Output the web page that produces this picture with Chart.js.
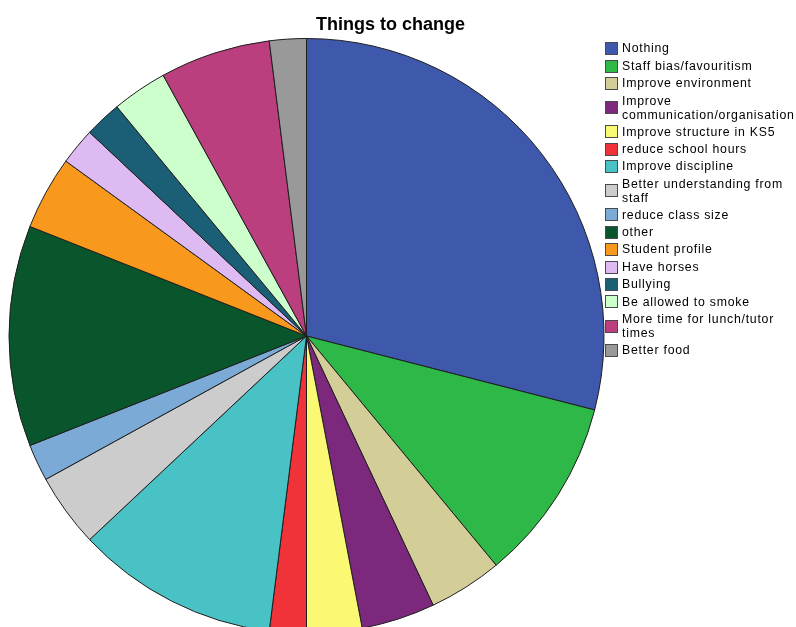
<!DOCTYPE html>
<html>
<head>
<meta charset="utf-8">
<script src="https://cdn.jsdelivr.net/npm/chart.js@4/dist/chart.umd.min.js"></script>
<style>
html,body{margin:0;padding:0;background:#fff;}
#wrap{width:796px;height:627px;position:relative;overflow:hidden;}
canvas{display:block;}
</style>
</head>
<body>
<div id="wrap"><canvas id="c" width="796" height="627"></canvas></div>
<script>
// ---- data ----
const titleText = 'Things to change';
const categories = [
  'Nothing',
  'Staff bias/favouritism',
  'Improve environment',
  'Improve communication/organisation',
  'Improve structure in KS5',
  'reduce school hours',
  'Improve discipline',
  'Better understanding from staff',
  'reduce class size',
  'other',
  'Student profile',
  'Have horses',
  'Bullying',
  'Be allowed to smoke',
  'More time for lunch/tutor times',
  'Better food'
];
const values = [29, 10, 4, 4, 3, 2, 11, 4, 2, 12, 4, 2, 2, 3, 6, 2];
const colors = [
  '#3E58AC', '#2EB848', '#D3CE97', '#7C287D', '#FBF873', '#EF3338',
  '#48C2C5', '#CCCCCC', '#7AAAD5', '#0A562C', '#F8981D', '#DDBAF1',
  '#1A5F76', '#CCFFCC', '#BB3F7F', '#999999'
];
const legendLabels = [
  ['Nothing'],
  ['Staff bias/favouritism'],
  ['Improve environment'],
  ['Improve', 'communication/organisation'],
  ['Improve structure in KS5'],
  ['reduce school hours'],
  ['Improve discipline'],
  ['Better understanding from', 'staff'],
  ['reduce class size'],
  ['other'],
  ['Student profile'],
  ['Have horses'],
  ['Bullying'],
  ['Be allowed to smoke'],
  ['More time for lunch/tutor', 'times'],
  ['Better food']
];

// ---- custom title + legend ----
const decor = {
  id: 'decor',
  afterDraw(chart) {
    const ctx = chart.ctx;
    const ds = chart.data.datasets[0];
    ctx.save();
    ctx.fillStyle = '#000';
    ctx.font = 'bold 18px "Liberation Sans", Arial, sans-serif';
    ctx.textAlign = 'center';
    ctx.textBaseline = 'alphabetic';
    ctx.fillText(titleText, 390.5, 30);

    ctx.font = '12.3px "Liberation Sans", Arial, sans-serif';
    try { ctx.letterSpacing = '0.75px'; } catch (e) {}
    ctx.textAlign = 'left';
    ctx.textBaseline = 'middle';
    const single = 17.4, extra = 14;
    let y = 39.4;
    legendLabels.forEach((lines, i) => {
      const h = single + extra * (lines.length - 1);
      const cy = y + h / 2;
      const by = Math.round(cy - 6);
      ctx.fillStyle = ds.backgroundColor[i];
      ctx.fillRect(605, by, 12, 12);
      ctx.strokeStyle = '#4a4a4a';
      ctx.lineWidth = 1;
      ctx.strokeRect(605.5, by + 0.5, 12, 12);
      ctx.fillStyle = '#000';
      const first = cy - extra * (lines.length - 1) / 2 + 1;
      lines.forEach((t, k) => ctx.fillText(t, 622, first + k * extra));
      y += h - (lines.length > 1 ? 0.5 : 0);
    });
    ctx.restore();
  }
};

new Chart(document.getElementById('c'), {
  type: 'pie',
  data: {
    labels: categories,
    datasets: [{
      data: values,
      backgroundColor: colors,
      borderColor: '#1e1e1e',
      borderWidth: 1,
      clip: false
    }]
  },
  options: {
    responsive: false,
    animation: false,
    devicePixelRatio: 1,
    radius: 297.5,
    rotation: 0,
    layout: { padding: { left: 9, right: 192, top: 45, bottom: 0 } },
    plugins: {
      legend: { display: false },
      title: { display: false },
      tooltip: { enabled: false }
    }
  },
  plugins: [decor]
});
</script>
</body>
</html>
